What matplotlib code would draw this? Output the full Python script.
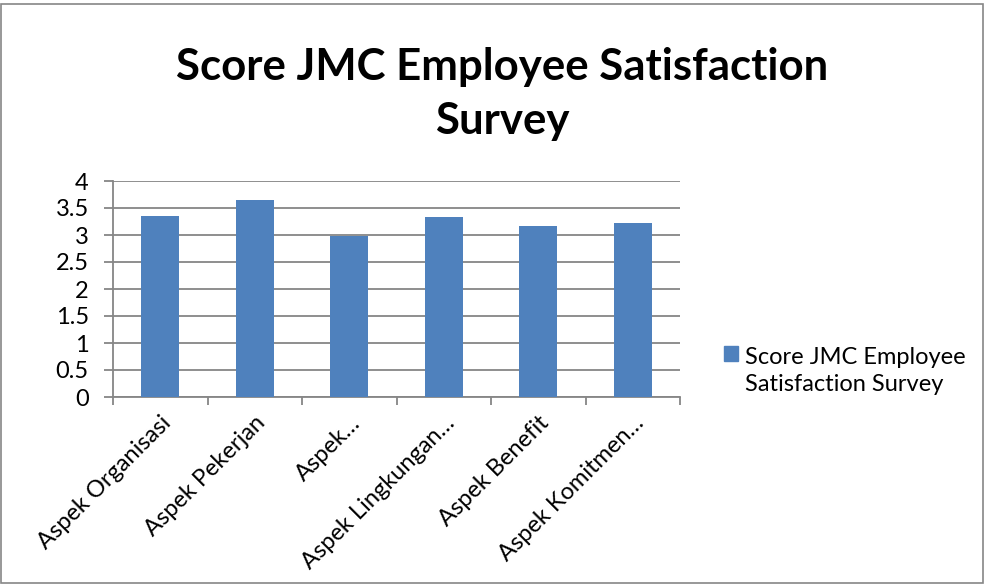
import matplotlib
matplotlib.use("Agg")
import matplotlib.pyplot as plt
from matplotlib.patches import Rectangle

categories = ["Aspek Organisasi", "Aspek Pekerjan", "Aspek…", "Aspek Lingkungan…",
              "Aspek Benefit", "Aspek Komitmen…"]
values = [3.35, 3.65, 2.98, 3.33, 3.16, 3.23]
yticks = [0, 0.5, 1, 1.5, 2, 2.5, 3, 3.5, 4]
ytick_labels = ["0", "0.5", "1", "1.5", "2", "2.5", "3", "3.5", "4"]
series_name = "Score JMC Employee\nSatisfaction Survey"
title = "Score JMC Employee Satisfaction\nSurvey"

plt.rcParams['font.family'] = ['Lato', 'DejaVu Sans']

fig = plt.figure(figsize=(9.87, 5.85), dpi=100)
ax = fig.add_axes([113/987, 1-397/585, (680-113)/987, (397-181)/585])

grid_c = "#868686"
bar_c = "#4F81BD"
x = list(range(len(categories)))
ax.bar(x, values, width=0.40, color=bar_c, zorder=3)

ax.set_xlim(-0.5, len(categories) - 0.5)
ax.set_ylim(0, 4)
ax.set_yticks(yticks)
ax.set_yticklabels(ytick_labels, fontsize=17)
ax.yaxis.grid(True, color=grid_c, linewidth=1.3, zorder=0)
ax.set_xticks([i - 0.5 for i in range(len(categories) + 1)])
ax.set_xticklabels([])
ax.set_xticks(x, minor=True)
ax.set_xticklabels(categories, minor=True, rotation=45, ha='right',
                   rotation_mode='anchor', fontsize=17)
ax.tick_params(axis='x', which='minor', length=0, pad=11)
ax.tick_params(axis='x', which='major', length=6, color=grid_c, width=1.3)
ax.tick_params(axis='y', length=6.5, color=grid_c, width=1.3, pad=11)
for s in ['top', 'right']:
    ax.spines[s].set_visible(False)
for s in ['left', 'bottom']:
    ax.spines[s].set_color(grid_c)
    ax.spines[s].set_linewidth(1.3)

fig.text(502/987, 1-94/585, title, ha='center', va='center', fontsize=31.5,
         fontweight='bold', linespacing=1.45)

# legend
fig.patches.append(Rectangle((724/987, 1-361/585), 14/987, 15/585,
                             transform=fig.transFigure, color=bar_c))
fig.text(745/987, 1-371/585, series_name, ha='left', va='center', fontsize=17,
         linespacing=1.38)

fig.patches.append(Rectangle((1.5/987, 2.5/585), 982/987, 579/585,
                             transform=fig.transFigure, fill=False,
                             edgecolor=grid_c, linewidth=1.2))

fig.savefig("out.png", dpi=100)
